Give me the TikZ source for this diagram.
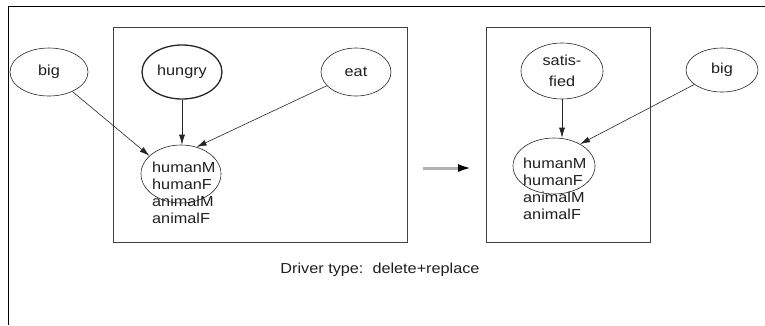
\documentclass[tikz,border=0pt]{standalone}
\usepackage{fontspec}
\setmainfont{Liberation Sans}[FakeStretch=1.12]
\usepackage{tikz}
\usetikzlibrary{shapes.geometric, arrows.meta}
\tikzset{every node/.style={font=\fontsize{14.5}{17}\selectfont, text=black!88}}
\tikzset{var/.style={draw=black!85, ellipse, inner sep=0pt, line width=0.6pt}}
\tikzset{link/.style={draw=black!85, line width=0.6pt, -{Latex[length=10pt,width=6pt]}}}
\tikzset{frame/.style={draw=black!75, line width=1pt}}

\begin{document}
\begin{tikzpicture}[x=1pt, y=-1pt]
\useasboundingbox (0,0) rectangle (765,325);
\draw[black, line width=1pt] (8,325) -- (8,6) -- (765,6);

% before
\draw[frame] (113,27) rectangle (407,242);
\node[var, minimum width=78pt, minimum height=48pt] (bigL) at (49,72) {big};
\node[var, minimum width=80pt, minimum height=54pt, line width=1.3pt] (hungry) at (182,72) {hungry};
\node[var, minimum width=70pt, minimum height=48pt] (eat) at (356,72) {eat};
\node[var, minimum width=80pt, minimum height=58pt] (hmL) at (181,174) {};
\node[anchor=north west, align=left, inner sep=0pt] (hmLtxt) at (152,162)
  {humanM\\humanF\\animalM\\animalF};
\draw[link] (bigL) -- (hmL.150);
\draw[link] (hungry) -- (hungry |- hmL.north);
\draw[link] (eat) -- (hmL.60);

% the change
\coordinate (mfrom) at (423,168);
\coordinate (mto) at (472,168);
\draw[line width=3pt, gray!60, -{Latex[color=black, length=14pt, width=8pt]}] (mfrom) -- (mto);

% after
\draw[frame] (486,27) rectangle (650,242);
\node[var, minimum width=82pt, minimum height=56pt, align=center] (sat) at (562,71)
  {satis-\\[4pt]fied};
\node[var, minimum width=72pt, minimum height=44pt] (bigR) at (722,70) {big};
\node[var, minimum width=82pt, minimum height=56pt] (hmR) at (554,166) {};
\node[anchor=north west, align=left, inner sep=0pt] (hmRtxt) at (523,158)
  {humanM\\humanF\\animalM\\animalF};
\draw[link] (sat) -- (sat |- hmR.north);
\draw[link] (bigR) -- (hmR.40);

\node (driver) at (380,270) {Driver type:\ \ delete+replace};
\end{tikzpicture}
\end{document}
